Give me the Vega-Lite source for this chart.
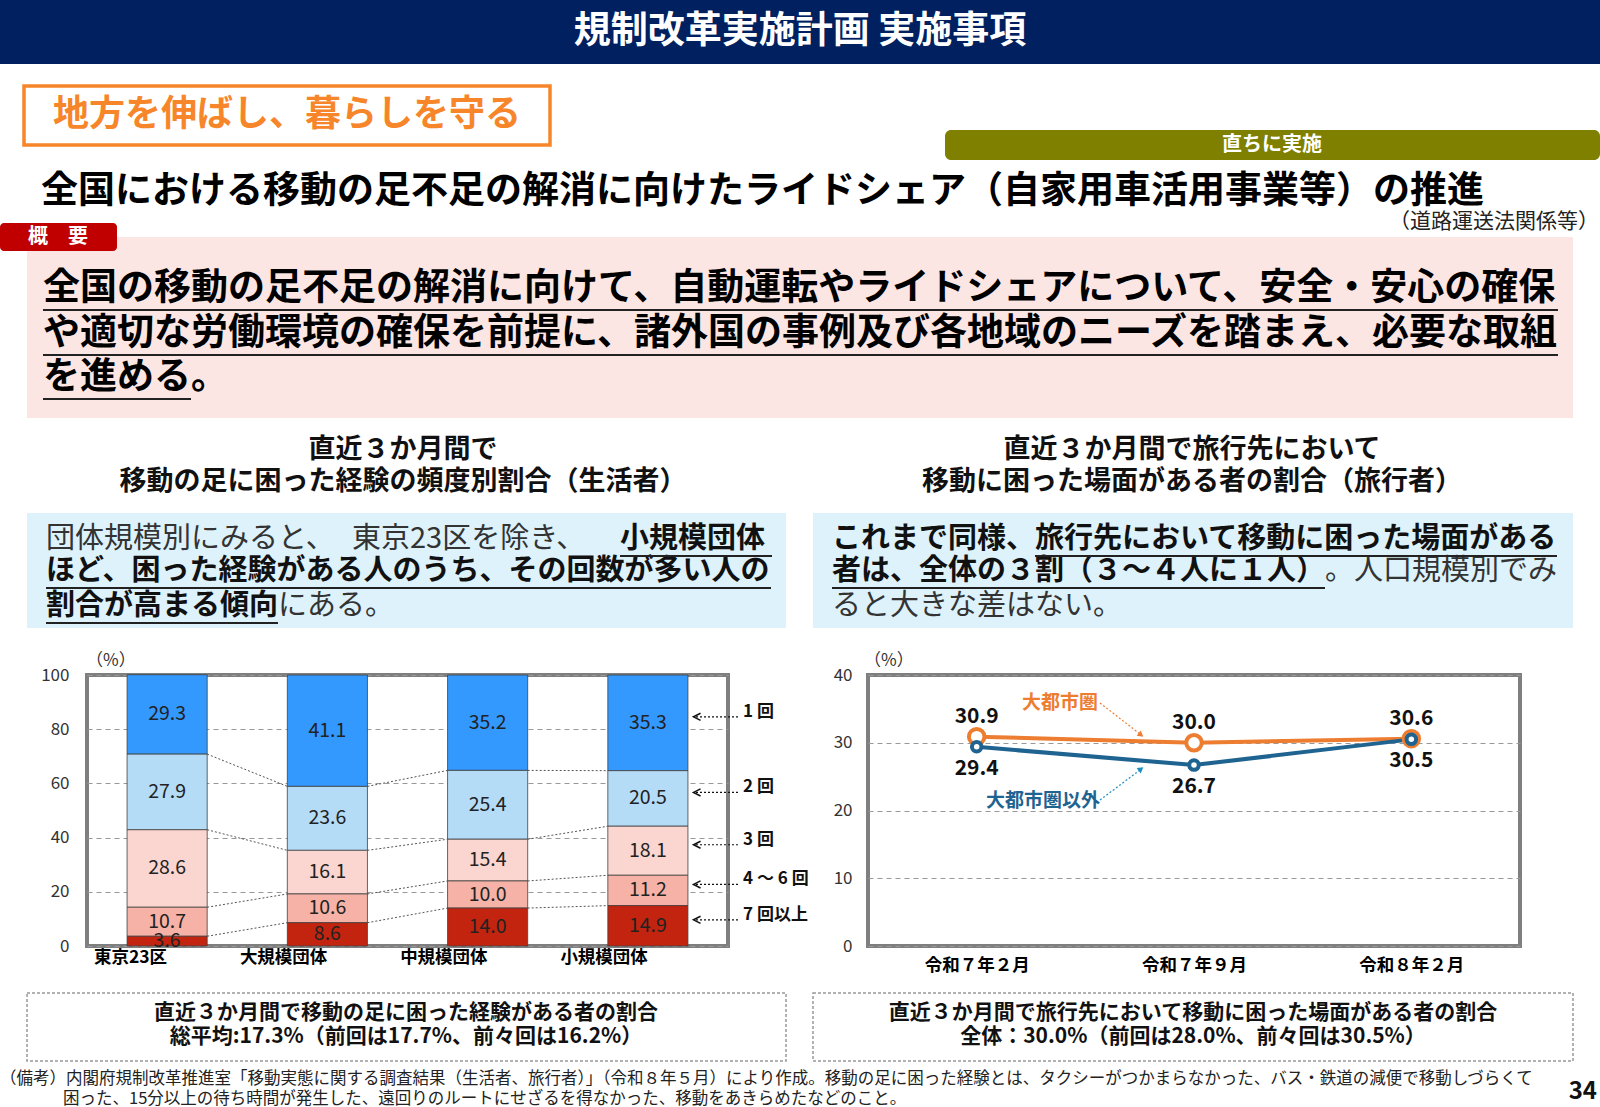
{
  "$schema": "https://vega.github.io/schema/vega-lite/v6.json",
  "padding": 0,
  "background": "white",
  "spacing": 0,
  "bounds": "flush",
  "config": {"view": {"stroke": null}, "font": "Noto Sans CJK JP"},
  "datasets": {
    "freq": [
      {"cat": "東京23区", "ci": 1, "seg": "1 回", "k": 5, "v": 29.3},
      {"cat": "東京23区", "ci": 1, "seg": "2 回", "k": 4, "v": 27.9},
      {"cat": "東京23区", "ci": 1, "seg": "3 回", "k": 3, "v": 28.6},
      {"cat": "東京23区", "ci": 1, "seg": "4 ～ 6 回", "k": 2, "v": 10.7},
      {"cat": "東京23区", "ci": 1, "seg": "7 回以上", "k": 1, "v": 3.6},
      {"cat": "大規模団体", "ci": 2, "seg": "1 回", "k": 5, "v": 41.1},
      {"cat": "大規模団体", "ci": 2, "seg": "2 回", "k": 4, "v": 23.6},
      {"cat": "大規模団体", "ci": 2, "seg": "3 回", "k": 3, "v": 16.1},
      {"cat": "大規模団体", "ci": 2, "seg": "4 ～ 6 回", "k": 2, "v": 10.6},
      {"cat": "大規模団体", "ci": 2, "seg": "7 回以上", "k": 1, "v": 8.6},
      {"cat": "中規模団体", "ci": 3, "seg": "1 回", "k": 5, "v": 35.2},
      {"cat": "中規模団体", "ci": 3, "seg": "2 回", "k": 4, "v": 25.4},
      {"cat": "中規模団体", "ci": 3, "seg": "3 回", "k": 3, "v": 15.4},
      {"cat": "中規模団体", "ci": 3, "seg": "4 ～ 6 回", "k": 2, "v": 10.0},
      {"cat": "中規模団体", "ci": 3, "seg": "7 回以上", "k": 1, "v": 14.0},
      {"cat": "小規模団体", "ci": 4, "seg": "1 回", "k": 5, "v": 35.3},
      {"cat": "小規模団体", "ci": 4, "seg": "2 回", "k": 4, "v": 20.5},
      {"cat": "小規模団体", "ci": 4, "seg": "3 回", "k": 3, "v": 18.1},
      {"cat": "小規模団体", "ci": 4, "seg": "4 ～ 6 回", "k": 2, "v": 11.2},
      {"cat": "小規模団体", "ci": 4, "seg": "7 回以上", "k": 1, "v": 14.9}
    ],
    "trav": [
      {"t": "令和７年２月", "g": "大都市圏", "v": 30.9},
      {"t": "令和７年９月", "g": "大都市圏", "v": 30.0},
      {"t": "令和８年２月", "g": "大都市圏", "v": 30.6},
      {"t": "令和７年２月", "g": "大都市圏以外", "v": 29.4},
      {"t": "令和７年９月", "g": "大都市圏以外", "v": 26.7},
      {"t": "令和８年２月", "g": "大都市圏以外", "v": 30.5}
    ]
  },
  "hconcat": [
    {
      "width": 87,
      "height": 271,
      "data": {"values": [{}]},
      "layer": [
        {"mark": {"type": "rect", "x": 0, "x2": 1600, "y": -675, "y2": -611, "fill": "#002060"}, "encoding": {}},
        {"mark": {"type": "text", "x": 800, "y": -643, "text": "規制改革実施計画 実施事項", "fontSize": 37, "fontWeight": "bold", "fill": "white", "align": "center", "baseline": "middle"}, "encoding": {}},
        {"mark": {"type": "rect", "x": 24, "x2": 550, "y": -589, "y2": -530, "fill": "white", "stroke": "#f7862a", "strokeWidth": 3.5}, "encoding": {}},
        {"mark": {"type": "text", "x": 287, "y": -560, "text": "地方を伸ばし、暮らしを守る", "fontSize": 36, "fontWeight": "bold", "fill": "#f7862a", "align": "center", "baseline": "middle"}, "encoding": {}},
        {"mark": {"type": "rect", "x": 945, "x2": 1600, "y": -545, "y2": -515, "fill": "#7f7f00", "cornerRadius": 6}, "encoding": {}},
        {"mark": {"type": "text", "x": 1272, "y": -530, "text": "直ちに実施", "fontSize": 20, "fontWeight": "bold", "fill": "white", "align": "center", "baseline": "middle"}, "encoding": {}},
        {"mark": {"type": "text", "x": 41, "y": -483, "text": "全国における移動の足不足の解消に向けたライドシェア（自家用車活用事業等）の推進", "fontSize": 37, "fontWeight": "bold", "fill": "#000", "align": "left", "baseline": "middle"}, "encoding": {}},
        {"mark": {"type": "text", "x": 1599, "y": -453, "text": "（道路運送法関係等）", "fontSize": 21, "fill": "#222", "align": "right", "baseline": "middle"}, "encoding": {}},
        {"mark": {"type": "rect", "x": 27, "x2": 1573, "y": -438, "y2": -257, "fill": "#fbe6e4"}, "encoding": {}},
        {"mark": {"type": "rect", "x": 0, "x2": 117, "y": -452, "y2": -424, "fill": "#c00000", "cornerRadius": 4}, "encoding": {}},
        {"mark": {"type": "text", "x": 58, "y": -438, "text": "概　要", "fontSize": 20, "fontWeight": "bold", "fill": "white", "align": "center", "baseline": "middle"}, "encoding": {}},
        {"mark": {"type": "text", "x": 43, "y": -386, "text": "全国の移動の足不足の解消に向けて、自動運転やライドシェアについて、安全・安心の確保", "fontSize": 37, "fontWeight": "bold", "fill": "#000", "align": "left", "baseline": "middle"}, "encoding": {}},
        {"mark": {"type": "text", "x": 43, "y": -341, "text": "や適切な労働環境の確保を前提に、諸外国の事例及び各地域のニーズを踏まえ、必要な取組", "fontSize": 37, "fontWeight": "bold", "fill": "#000", "align": "left", "baseline": "middle"}, "encoding": {}},
        {"mark": {"type": "text", "x": 43, "y": -297, "text": "を進める。", "fontSize": 37, "fontWeight": "bold", "fill": "#000", "align": "left", "baseline": "middle"}, "encoding": {}},
        {"mark": {"type": "rule", "stroke": "#222", "strokeWidth": 2}, "encoding": {"x": {"value": 43}, "x2": {"value": 1558}, "y": {"value": -365}, "y2": {"value": -365}}},
        {"mark": {"type": "rule", "stroke": "#222", "strokeWidth": 2}, "encoding": {"x": {"value": 43}, "x2": {"value": 1558}, "y": {"value": -320}, "y2": {"value": -320}}},
        {"mark": {"type": "rule", "stroke": "#222", "strokeWidth": 2}, "encoding": {"x": {"value": 43}, "x2": {"value": 191}, "y": {"value": -276}, "y2": {"value": -276}}},
        {"mark": {"type": "text", "x": 403, "y": -225, "text": "直近３か月間で", "fontSize": 27, "fontWeight": "bold", "fill": "#111", "align": "center", "baseline": "middle"}, "encoding": {}},
        {"mark": {"type": "text", "x": 403, "y": -193, "text": "移動の足に困った経験の頻度別割合（生活者）", "fontSize": 27, "fontWeight": "bold", "fill": "#111", "align": "center", "baseline": "middle"}, "encoding": {}},
        {"mark": {"type": "text", "x": 1192, "y": -225, "text": "直近３か月間で旅行先において", "fontSize": 27, "fontWeight": "bold", "fill": "#111", "align": "center", "baseline": "middle"}, "encoding": {}},
        {"mark": {"type": "text", "x": 1192, "y": -193, "text": "移動に困った場面がある者の割合（旅行者）", "fontSize": 27, "fontWeight": "bold", "fill": "#111", "align": "center", "baseline": "middle"}, "encoding": {}},
        {"mark": {"type": "rect", "x": 27, "x2": 786, "y": -162, "y2": -47, "fill": "#ddf2fb"}, "encoding": {}},
        {"mark": {"type": "rect", "x": 813, "x2": 1573, "y": -162, "y2": -47, "fill": "#ddf2fb"}, "encoding": {}},
        {"mark": {"type": "text", "x": 46, "y": -136, "text": "団体規模別にみると、", "fontSize": 29, "fill": "#333", "align": "left", "baseline": "middle"}, "encoding": {}},
        {"mark": {"type": "text", "x": 352, "y": -136, "text": "東京23区を除き、", "fontSize": 29, "fill": "#333", "align": "left", "baseline": "middle"}, "encoding": {}},
        {"mark": {"type": "text", "x": 620, "y": -136, "text": "小規模団体", "fontSize": 29, "fontWeight": "bold", "fill": "#111", "align": "left", "baseline": "middle"}, "encoding": {}},
        {"mark": {"type": "text", "x": 46, "y": -104, "text": "ほど、困った経験がある人のうち、その回数が多い人の", "fontSize": 29, "fontWeight": "bold", "fill": "#111", "align": "left", "baseline": "middle"}, "encoding": {}},
        {"mark": {"type": "text", "x": 46, "y": -69, "text": "割合が高まる傾向", "fontSize": 29, "fontWeight": "bold", "fill": "#111", "align": "left", "baseline": "middle"}, "encoding": {}},
        {"mark": {"type": "text", "x": 278, "y": -69, "text": "にある。", "fontSize": 29, "fill": "#333", "align": "left", "baseline": "middle"}, "encoding": {}},
        {"mark": {"type": "rule", "stroke": "#222", "strokeWidth": 2}, "encoding": {"x": {"value": 620}, "x2": {"value": 772}, "y": {"value": -119}, "y2": {"value": -119}}},
        {"mark": {"type": "rule", "stroke": "#222", "strokeWidth": 2}, "encoding": {"x": {"value": 46}, "x2": {"value": 771}, "y": {"value": -87}, "y2": {"value": -87}}},
        {"mark": {"type": "rule", "stroke": "#222", "strokeWidth": 2}, "encoding": {"x": {"value": 46}, "x2": {"value": 278}, "y": {"value": -52}, "y2": {"value": -52}}},
        {"mark": {"type": "text", "x": 832, "y": -136, "text": "これまで同様、旅行先において移動に困った場面がある", "fontSize": 29, "fontWeight": "bold", "fill": "#111", "align": "left", "baseline": "middle"}, "encoding": {}},
        {"mark": {"type": "text", "x": 832, "y": -104, "text": "者は、全体の３割（３～４人に１人）", "fontSize": 29, "fontWeight": "bold", "fill": "#111", "align": "left", "baseline": "middle"}, "encoding": {}},
        {"mark": {"type": "text", "x": 1325, "y": -104, "text": "。人口規模別でみ", "fontSize": 29, "fill": "#333", "align": "left", "baseline": "middle"}, "encoding": {}},
        {"mark": {"type": "text", "x": 832, "y": -69, "text": "ると大きな差はない。", "fontSize": 29, "fill": "#333", "align": "left", "baseline": "middle"}, "encoding": {}},
        {"mark": {"type": "rule", "stroke": "#222", "strokeWidth": 2}, "encoding": {"x": {"value": 1035}, "x2": {"value": 1557}, "y": {"value": -119}, "y2": {"value": -119}}},
        {"mark": {"type": "rule", "stroke": "#222", "strokeWidth": 2}, "encoding": {"x": {"value": 832}, "x2": {"value": 1325}, "y": {"value": -87}, "y2": {"value": -87}}},
        {"mark": {"type": "text", "x": 86, "y": -14, "text": "（%）", "fontSize": 17, "fill": "#333", "align": "left", "baseline": "middle"}, "encoding": {}},
        {"mark": {"type": "text", "x": 864, "y": -14, "text": "（%）", "fontSize": 17, "fill": "#333", "align": "left", "baseline": "middle"}, "encoding": {}},
        {"mark": {"type": "rect", "x": 27, "x2": 786, "y": 318, "y2": 386, "fillOpacity": 0, "stroke": "#999", "strokeDash": [3, 2], "strokeWidth": 1.5}, "encoding": {}},
        {"mark": {"type": "rect", "x": 813, "x2": 1573, "y": 318, "y2": 386, "fillOpacity": 0, "stroke": "#999", "strokeDash": [3, 2], "strokeWidth": 1.5}, "encoding": {}},
        {"mark": {"type": "text", "x": 406, "y": 338, "text": "直近３か月間で移動の足に困った経験がある者の割合", "fontSize": 21, "fontWeight": "bold", "fill": "#111", "align": "center", "baseline": "middle"}, "encoding": {}},
        {"mark": {"type": "text", "x": 406, "y": 362, "text": "総平均:17.3%（前回は17.7%、前々回は16.2%）", "fontSize": 21, "fontWeight": "bold", "fill": "#111", "align": "center", "baseline": "middle"}, "encoding": {}},
        {"mark": {"type": "text", "x": 1193, "y": 338, "text": "直近３か月間で旅行先において移動に困った場面がある者の割合", "fontSize": 21, "fontWeight": "bold", "fill": "#111", "align": "center", "baseline": "middle"}, "encoding": {}},
        {"mark": {"type": "text", "x": 1193, "y": 362, "text": "全体：30.0%（前回は28.0%、前々回は30.5%）", "fontSize": 21, "fontWeight": "bold", "fill": "#111", "align": "center", "baseline": "middle"}, "encoding": {}},
        {"mark": {"type": "text", "x": 0, "y": 404, "text": "（備考）内閣府規制改革推進室「移動実態に関する調査結果（生活者、旅行者）」（令和８年５月）により作成。移動の足に困った経験とは、タクシーがつかまらなかった、バス・鉄道の減便で移動しづらくて", "fontSize": 16.5, "fill": "#222", "align": "left", "baseline": "middle"}, "encoding": {}},
        {"mark": {"type": "text", "x": 63, "y": 424, "text": "困った、15分以上の待ち時間が発生した、遠回りのルートにせざるを得なかった、移動をあきらめたなどのこと。", "fontSize": 16.5, "fill": "#222", "align": "left", "baseline": "middle"}, "encoding": {}},
        {"mark": {"type": "text", "x": 1597, "y": 417, "text": "34", "fontSize": 24, "fontWeight": "bold", "fill": "#111", "align": "right", "baseline": "middle"}, "encoding": {}}
      ]
    },
    {
      "width": 641,
      "height": 271,
      "view": {"stroke": "#7f7f7f", "strokeWidth": 4},
      "data": {"name": "freq"},
      "layer": [
        {
          "transform": [
            {"stack": "v", "groupby": ["cat"], "sort": [{"field": "k"}], "as": ["s0", "s1"]},
            {"filter": "datum.k < 5"},
            {"window": [{"op": "lead", "field": "s1", "as": "n1"}, {"op": "lead", "field": "cat", "as": "ncat"}], "groupby": ["k"], "sort": [{"field": "ci"}]},
            {"filter": "datum.ncat != null"}
          ],
          "mark": {"type": "rule", "stroke": "#555", "strokeWidth": 1, "strokeDash": [2, 2]},
          "encoding": {
            "x": {"field": "cat", "type": "nominal", "bandPosition": 1},
            "x2": {"field": "ncat", "bandPosition": 0},
            "y": {"field": "s1", "type": "quantitative", "stack": null},
            "y2": {"field": "n1"}
          }
        },
        {
          "mark": {"type": "bar", "stroke": "#404040", "strokeWidth": 0.8},
          "encoding": {
            "x": {
              "field": "cat", "type": "nominal",
              "scale": {"domain": ["東京23区", "大規模団体", "中規模団体", "小規模団体"], "paddingInner": 0.5, "paddingOuter": 0.25},
              "axis": {"title": null, "labelAngle": 0, "labelFontSize": 17.5, "labelFontWeight": "bold", "labelColor": "#000", "ticks": false, "domain": false, "labelPadding": 11}
            },
            "y": {
              "field": "v", "type": "quantitative", "stack": "zero",
              "scale": {"domain": [0, 100], "nice": false},
              "axis": {"title": null, "values": [0, 20, 40, 60, 80, 100], "grid": true, "gridDash": [5, 4], "gridColor": "#999", "gridWidth": 1.2, "domain": false, "ticks": false, "labelFontSize": 17, "labelColor": "#333", "labelPadding": 18}
            },
            "color": {
              "field": "seg", "type": "nominal",
              "scale": {"domain": ["1 回", "2 回", "3 回", "4 ～ 6 回", "7 回以上"], "range": ["#3399ff", "#b4dcf7", "#fbd6d0", "#f6b2a6", "#c3240f"]},
              "legend": null
            },
            "order": {"field": "k", "type": "quantitative"}
          }
        },
        {
          "mark": {"type": "text", "fontSize": 19.5, "fill": "#222", "baseline": "middle"},
          "encoding": {
            "x": {"field": "cat", "type": "nominal"},
            "y": {"field": "v", "type": "quantitative", "stack": "zero", "bandPosition": 0.5},
            "order": {"field": "k", "type": "quantitative"},
            "text": {"field": "v", "type": "quantitative", "format": ".1f"}
          }
        },
        {
          "transform": [{"filter": "datum.cat == '小規模団体'"}],
          "mark": {"type": "text", "fontSize": 17, "fontWeight": "bold", "fill": "#111", "align": "left", "baseline": "middle", "dy": -11},
          "encoding": {
            "x": {"value": 656},
            "y": {"field": "v", "type": "quantitative", "stack": "zero", "bandPosition": 0.5},
            "order": {"field": "k", "type": "quantitative"},
            "text": {"field": "seg", "type": "nominal"}
          }
        },
        {
          "transform": [{"filter": "datum.cat == '小規模団体'"}],
          "mark": {"type": "rule", "stroke": "#111", "strokeWidth": 1.2, "strokeDash": [2, 2], "yOffset": -6},
          "encoding": {
            "x": {"value": 651},
            "x2": {"value": 607},
            "y": {"field": "v", "type": "quantitative", "stack": "zero", "bandPosition": 0.5},
            "order": {"field": "k", "type": "quantitative"}
          }
        },
        {
          "transform": [{"filter": "datum.cat == '小規模団体'"}],
          "mark": {"type": "point", "shape": "M1,-1L-1,0L1,1", "filled": false, "stroke": "#111", "strokeWidth": 1.5, "size": 50, "opacity": 1, "yOffset": -6},
          "encoding": {
            "x": {"value": 610},
            "y": {"field": "v", "type": "quantitative", "stack": "zero", "bandPosition": 0.5},
            "order": {"field": "k", "type": "quantitative"}
          }
        }
      ]
    },
    {
      "width": 140,
      "height": 271,
      "data": {"values": []},
      "mark": {"type": "text"},
      "encoding": {}
    },
    {
      "width": 652,
      "height": 271,
      "view": {"stroke": "#7f7f7f", "strokeWidth": 4},
      "data": {"name": "trav"},
      "layer": [
        {
          "transform": [{"filter": "datum.g == '大都市圏'"}],
          "mark": {"type": "line", "strokeWidth": 4, "stroke": "#ed7d31"},
          "encoding": {
            "x": {
              "field": "t", "type": "ordinal",
              "scale": {"type": "point", "domain": ["令和７年２月", "令和７年９月", "令和８年２月"], "padding": 0.5},
              "axis": {"title": null, "labelAngle": 0, "labelFontSize": 17.5, "labelFontWeight": "bold", "labelColor": "#000", "ticks": false, "domain": false, "labelPadding": 10}
            },
            "y": {
              "field": "v", "type": "quantitative",
              "scale": {"domain": [0, 40], "nice": false},
              "axis": {"title": null, "values": [0, 10, 20, 30, 40], "grid": true, "gridDash": [5, 4], "gridColor": "#999", "gridWidth": 1.2, "domain": false, "ticks": false, "labelFontSize": 17, "labelColor": "#333", "labelPadding": 16}
            }
          }
        },
        {
          "transform": [{"filter": "datum.g == '大都市圏以外'"}],
          "mark": {"type": "line", "strokeWidth": 4, "stroke": "#1f6391"},
          "encoding": {
            "x": {"field": "t", "type": "ordinal"},
            "y": {"field": "v", "type": "quantitative"}
          }
        },
        {
          "transform": [{"filter": "datum.g == '大都市圏'"}],
          "mark": {"type": "circle", "fill": "white", "stroke": "#ed7d31", "strokeWidth": 4, "size": 240, "opacity": 1},
          "encoding": {
            "x": {"field": "t", "type": "ordinal"},
            "y": {"field": "v", "type": "quantitative"}
          }
        },
        {
          "transform": [{"filter": "datum.g == '大都市圏以外'"}],
          "mark": {"type": "circle", "fill": "white", "stroke": "#1f6391", "strokeWidth": 4, "size": 90, "opacity": 1},
          "encoding": {
            "x": {"field": "t", "type": "ordinal"},
            "y": {"field": "v", "type": "quantitative"}
          }
        },
        {
          "transform": [{"filter": "datum.g == '大都市圏'"}],
          "mark": {"type": "text", "fontSize": 21, "fontWeight": "bold", "fill": "#111", "baseline": "middle", "dy": -20},
          "encoding": {
            "x": {"field": "t", "type": "ordinal"},
            "y": {"field": "v", "type": "quantitative"},
            "text": {"field": "v", "type": "quantitative", "format": ".1f"}
          }
        },
        {
          "transform": [{"filter": "datum.g == '大都市圏以外'"}],
          "mark": {"type": "text", "fontSize": 21, "fontWeight": "bold", "fill": "#111", "baseline": "middle", "dy": 22},
          "encoding": {
            "x": {"field": "t", "type": "ordinal"},
            "y": {"field": "v", "type": "quantitative"},
            "text": {"field": "v", "type": "quantitative", "format": ".1f"}
          }
        },
        {
          "data": {"values": [{}]},
          "mark": {"type": "text", "x": 192, "y": 28, "text": "大都市圏", "fontSize": 19, "fontWeight": "bold", "fill": "#ed7d31", "align": "center", "baseline": "middle"},
          "encoding": {}
        },
        {
          "data": {"values": [{}]},
          "mark": {"type": "text", "x": 175, "y": 126, "text": "大都市圏以外", "fontSize": 19, "fontWeight": "bold", "fill": "#1f6391", "align": "center", "baseline": "middle"},
          "encoding": {}
        },
        {
          "data": {"values": [{}]},
          "mark": {"type": "rule", "stroke": "#ed7d31", "strokeWidth": 1.2, "strokeDash": [2, 2]},
          "encoding": {"x": {"value": 232}, "y": {"value": 28}, "x2": {"value": 272}, "y2": {"value": 59}}
        },
        {
          "data": {"values": [{}]},
          "mark": {"type": "point", "x": 273, "y": 60, "shape": "triangle-right", "angle": 38, "filled": true, "fill": "#ed7d31", "size": 45, "opacity": 1},
          "encoding": {}
        },
        {
          "data": {"values": [{}]},
          "mark": {"type": "rule", "stroke": "#1f8fc0", "strokeWidth": 1.2, "strokeDash": [2, 2]},
          "encoding": {"x": {"value": 232}, "y": {"value": 125}, "x2": {"value": 272}, "y2": {"value": 95}}
        },
        {
          "data": {"values": [{}]},
          "mark": {"type": "point", "x": 273, "y": 94, "shape": "triangle-right", "angle": 323, "filled": true, "fill": "#1f8fc0", "size": 45, "opacity": 1},
          "encoding": {}
        }
      ]
    }
  ]
}
